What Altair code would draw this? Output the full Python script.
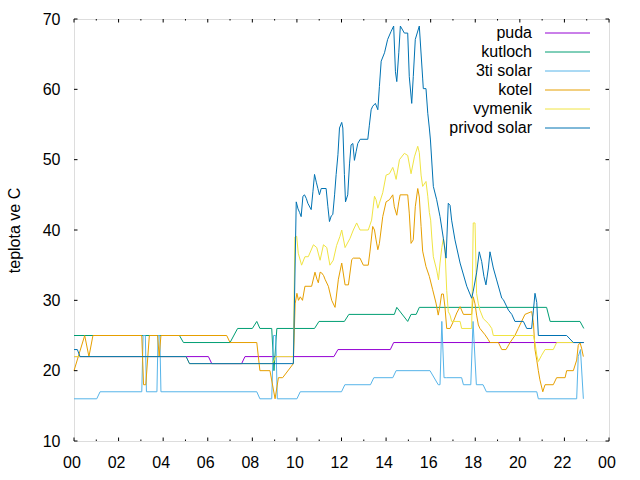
import altair as alt
import pandas as pd

names = ["puda", "kutloch", "3ti solar", "kotel", "vymenik", "privod solar"]
colors = ["#9400d3", "#009e73", "#56b4e9", "#e69f00", "#f0e442", "#0072b2"]

x_major = [0, 2, 4, 6, 8, 10, 12, 14, 16, 18, 20, 22, 24]
x_minor = [1, 3, 5, 7, 9, 11, 13, 15, 17, 19, 21, 23]
x_labels = ["00", "02", "04", "06", "08", "10", "12", "14", "16", "18", "20", "22", "00"]
y_major = [10, 20, 30, 40, 50, 60, 70]

puda_h = [0, 6.03, 6.18, 7.52, 7.67, 11.66, 11.84, 14.19, 14.34, 22.87]
puda_t = [22, 22, 21, 21, 22, 22, 23, 23, 24, 24]

kutloch_h = [0, 4.73, 4.91, 7.0, 7.34, 8.0, 8.2, 8.34, 8.87, 8.97, 9.1, 10.79, 10.99, 12.13, 12.33,
             14.37, 14.48, 14.97, 15.12, 15.35, 15.49, 21.2, 21.36, 22.7, 22.87]
kutloch_t = [25, 25, 24, 24, 26, 26, 27, 26, 26, 20, 26, 26, 27, 27, 28,
             28, 29, 27, 28, 28, 29, 29, 27, 27, 26]

solar3_h = [0, 1.02, 1.17, 3.04, 3.1, 3.2, 3.25, 3.72, 3.77, 3.85, 3.9, 8.2, 8.34, 8.87, 8.95, 9.05, 9.12,
            10.0, 10.15, 12.0, 12.15, 13.3, 13.45, 14.3, 14.45, 15.97, 16.34, 16.42, 16.5, 16.6, 16.72,
            17.39, 17.47, 17.8, 17.9, 18.05, 18.35, 18.5, 20.76, 20.83, 22.55, 22.62, 22.72, 22.85]
solar3_t = [16, 16, 17, 17, 25, 25, 17, 17, 25, 25, 17, 17, 16, 16, 25, 25, 16,
            16, 17, 17, 18, 18, 19, 19, 20, 20, 18, 18, 27, 19, 19,
            19, 18, 18, 27, 18, 18, 17, 17, 16, 16, 22, 23, 16]

kotel_h = [0, 0.48, 0.67, 0.85, 3.04, 3.12, 3.22, 3.38, 3.75, 3.82, 3.9, 6.85, 7.0, 8.2, 8.34, 8.79,
           9.02, 9.17, 9.36, 9.84, 9.92, 10.0, 10.07, 10.15, 10.25, 10.36, 10.66, 10.81, 10.9, 10.96,
           11.04, 11.11, 11.2, 11.26, 11.41, 11.56, 11.71, 11.86, 12.01, 12.16, 12.31, 12.46, 12.53,
           12.83, 12.98, 13.2, 13.28, 13.4, 13.48, 13.55, 13.63, 13.7, 13.85, 14.0, 14.15, 14.3, 14.37,
           14.48, 14.57, 14.63, 14.97, 15.04, 15.12, 15.22, 15.31, 15.42, 15.49, 15.57, 15.64, 15.79,
           15.94, 16.09, 16.24, 16.34, 16.42, 16.49, 16.57, 16.64, 16.72, 16.87, 17.02, 17.17, 17.32,
           17.47, 17.84, 17.91, 17.99, 18.06, 18.14, 18.21, 18.44, 18.59, 18.66, 19.04, 19.19, 19.38,
           19.56, 19.78, 19.93, 20.08, 20.23, 20.53, 20.61, 20.68, 20.76, 20.83, 20.9, 21.03, 21.13,
           21.5, 21.65, 22.03, 22.1, 22.4, 22.55, 22.62, 22.7, 22.77, 22.85]
kotel_t = [20, 25, 22, 25, 25, 18, 18, 25, 25, 22, 25, 25, 24, 24, 20, 20,
           16, 19, 19, 21, 29.5, 31, 30, 30.5, 30, 32, 32, 34, 33, 32.5,
           34, 33.9, 33.5, 33, 32, 30, 29, 33, 35.3, 32.2, 32.2, 35.8, 36,
           36, 35, 35, 37, 40.5, 40, 38.6, 37.2, 38.1, 41.9, 44, 44.3, 45, 43.3,
           42.1, 44, 45, 45, 42.4, 38.1, 38.6, 43.3, 45.9, 44.7, 40.5, 37, 34.8,
           33.4, 31.5, 29.6, 27.9, 29.3, 30.9, 30.9, 29.1, 26, 26, 27, 28.2, 29.1,
           28, 28, 30.5, 29.5, 27.9, 26.5, 26, 25.1, 24.4, 24, 24, 23, 23,
           24, 25, 26, 27, 28, 28.4, 26.8, 23, 21.5, 20, 18.7, 17, 18,
           18, 19, 19, 20, 20, 21.5, 23.6, 24, 23.2, 22]

vymenik_h = [0, 5.03, 5.18, 8.9, 9.05, 9.84, 9.91, 9.99, 10.06, 10.21, 10.36, 10.51, 10.74, 10.89, 11.04,
             11.19, 11.34, 11.48, 11.63, 11.78, 11.93, 12.01, 12.16, 12.38, 12.53, 12.68, 12.83, 13.2,
             13.35, 13.48, 13.55, 13.63, 13.7, 13.85, 14.0, 14.15, 14.3, 14.37, 14.45, 14.6, 14.82,
             14.97, 15.12, 15.27, 15.42, 15.49, 15.57, 15.64, 15.79, 15.87, 15.94, 16.0, 16.05, 16.12,
             16.27, 16.35, 16.42, 16.5, 16.57, 16.64, 16.72, 16.79, 16.87, 16.94, 17.32, 17.39, 17.84,
             17.91, 17.99, 18.06, 18.14, 18.21, 18.36, 18.59, 18.74, 18.81, 20.61, 20.68, 20.76, 20.83,
             20.98, 21.13, 21.5, 21.65, 22.85]
vymenik_t = [22, 22, 21, 21, 22, 22, 39, 39.1, 36.7, 35, 36.2, 36.2, 37.9, 37.5, 35.7,
             37.9, 37.5, 35, 35.7, 37.8, 39.1, 40, 37.5, 38.8, 40, 41, 40, 40,
             41.4, 44.8, 44.3, 43.1, 43.8, 45.3, 47.8, 48, 48.9, 48.2, 47.2, 50, 50.9,
             50.6, 48, 50.4, 51.9, 51, 47.8, 46.2, 46.9, 44.8, 42.5, 41.4, 39, 36.2,
             34.3, 32.9, 35.3, 37.5, 38.8, 37.5, 31.4, 28.4, 27.9, 27, 27, 26, 26,
             41, 41, 31, 29.5, 28.6, 27.4, 26.7, 26, 25, 25, 24, 22.2, 21.3,
             22.2, 23, 23, 24, 24]

privod_h = [0, 0.15, 0.27, 5.03, 5.18, 9.84, 9.97, 10.05, 10.12, 10.19, 10.27, 10.34, 10.42, 10.49, 10.64,
            10.72, 10.79, 10.87, 10.94, 11.01, 11.09, 11.31, 11.39, 11.46, 11.54, 11.61, 11.69, 11.76,
            11.84, 11.91, 12.01, 12.06, 12.13, 12.18, 12.28, 12.36, 12.43, 12.51, 12.58, 12.66, 12.73,
            12.84, 13.18, 13.25, 13.33, 13.4, 13.52, 13.63, 13.7, 13.78, 13.93, 14.07, 14.22, 14.34,
            14.42, 14.48, 14.57, 14.64, 14.82, 14.97, 15.04, 15.15, 15.22, 15.31, 15.49, 15.64, 15.67,
            15.79, 15.87, 15.94, 15.99, 16.12, 16.27, 16.42, 16.57, 16.69, 16.79, 16.87, 16.94, 17.09,
            17.32, 17.62, 17.84, 17.91, 18.06, 18.18, 18.29, 18.39, 18.48, 18.59, 18.66, 18.81, 18.96,
            19.19, 19.26, 19.49, 19.64, 19.78, 20.16, 20.31, 20.53, 20.61, 20.68, 20.76, 20.83, 22.1,
            22.4, 22.87]
privod_t = [23, 23, 22, 22, 21, 21, 44, 43, 42.5, 41.9, 44.8, 45, 44.5, 43.8, 42.9,
            45.5, 47.9, 46.8, 45.9, 45, 45.9, 45.9, 43.3, 41.2, 42, 42.2, 45, 47.9,
            50.7, 54.5, 55.3, 54.5, 47.9, 44, 45, 49.4, 52.1, 52.3, 49.9, 51.2, 52.3,
            52.9, 52.9, 54.9, 57.1, 57.6, 58, 57.1, 60.4, 64, 65.2, 67.1, 68.2, 69,
            62.5, 61.1, 65.2, 69, 68, 68, 61.8, 58, 61.8, 67.1, 69, 61.6, 60.1,
            60.1, 56.6, 54.5, 52.8, 46.2, 44.3, 41.9, 38.8, 36, 43.8, 43.5, 41.4, 38.6,
            35.3, 32, 30.3, 31.3, 33.9, 36.9, 35.5, 33.4, 32.2, 34.6, 36.9, 34.6, 32.9,
            30.3, 30.1, 28.6, 28, 27, 27, 26, 26, 28.6, 31, 29.7, 25, 25,
            24, 24]

series_h = [puda_h, kutloch_h, solar3_h, kotel_h, vymenik_h, privod_h]
series_t = [puda_t, kutloch_t, solar3_t, kotel_t, vymenik_t, privod_t]

W, H = 535, 422
FONT = "Liberation Sans"
MAJ, MIN = 3.5, 1.5

xscale = alt.Scale(domain=[0, 24], nice=False, zero=False)
yscale = alt.Scale(domain=[10, 70], nice=False, zero=False)

label_expr = "[" + ",".join("'%s'" % s for s in x_labels) + "][round(datum.value / 2)]"
x_axis = alt.Axis(values=x_major, labelExpr=label_expr, domain=False, ticks=False, tickSize=0,
                  grid=False, labelFont=FONT, labelFontSize=16, labelColor="black",
                  labelPadding=13, labelFlush=False, labelOverlap=False, labelOffset=-2.5,
                  title=None)
y_axis = alt.Axis(values=y_major, domain=False, ticks=False, tickSize=0, grid=False,
                  labelFont=FONT, labelFontSize=16, labelColor="black", labelPadding=14,
                  labelOverlap=False,
                  title="teplota ve C", titleFont=FONT, titleFontSize=16, titleFontWeight="normal",
                  titleColor="black", titleX=-60, titleY=H / 2, titleAngle=270,
                  titleAlign="center", titleBaseline="middle")

X = alt.X("h:Q", scale=xscale, axis=x_axis)
Y = alt.Y("t:Q", scale=yscale, axis=y_axis)

layers = []
for i, (name, hs, ts) in enumerate(zip(names, series_h, series_t)):
    df = pd.DataFrame({"h": hs, "t": ts, "i": list(range(len(hs)))})
    layers.append(alt.Chart(df).mark_line(color=colors[i], strokeWidth=1).encode(x=X, y=Y, order="i:Q"))

xt_major = pd.DataFrame({"h": x_major})
xt_minor = pd.DataFrame({"h": x_minor})
yt = pd.DataFrame({"t": y_major})

def xticks(df, length):
    bottom = alt.Chart(df).mark_rule(color="black", strokeWidth=1).encode(
        x=X, y=alt.value(H), y2=alt.value(H - length))
    top = alt.Chart(df).mark_rule(color="black", strokeWidth=1).encode(
        x=X, y=alt.value(0), y2=alt.value(length))
    return [bottom, top]

def yticks(df, length):
    left = alt.Chart(df).mark_rule(color="black", strokeWidth=1).encode(
        y=Y, x=alt.value(0), x2=alt.value(length))
    right = alt.Chart(df).mark_rule(color="black", strokeWidth=1).encode(
        y=Y, x=alt.value(W), x2=alt.value(W - length))
    return [left, right]

layers += xticks(xt_major, MAJ) + xticks(xt_minor, MIN) + yticks(yt, MAJ)
main = alt.layer(*layers)

leg_df = pd.DataFrame({"series": names})
leg_y = alt.Y("series:N", sort=names, axis=None,
              scale=alt.Scale(type="point", domain=names, range=[14, 109], padding=0))
leg_color = alt.Color("series:N", scale=alt.Scale(domain=names, range=colors), legend=None)
leg_text = alt.Chart(leg_df).mark_text(align="right", baseline="middle", font=FONT, fontSize=16,
                                       color="black").encode(
    y=leg_y, x=alt.value(458), text="series:N")
leg_rule = alt.Chart(leg_df).mark_rule(strokeWidth=1).encode(
    y=leg_y, x=alt.value(471), x2=alt.value(516), color=leg_color)
legend = alt.layer(leg_text, leg_rule)

chart = alt.layer(main, legend).resolve_scale(y="independent", color="independent").properties(
    width=W, height=H,
    padding={"left": 74, "top": 19, "right": 31, "bottom": 39},
    autosize=alt.AutoSizeParams(type="none"),
).configure_view(stroke="black", strokeWidth=1).configure(background="white")

chart.save("out.html", embed_options={"renderer": "svg", "actions": False})
